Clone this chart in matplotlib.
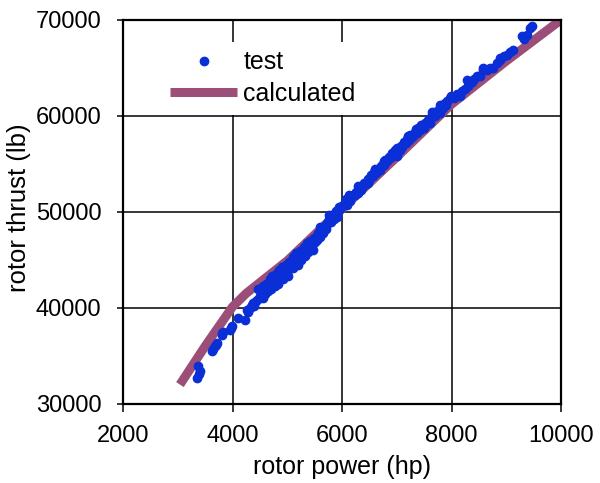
import numpy as np
import matplotlib.pyplot as plt

plt.rcParams['font.family'] = ['Liberation Sans', 'DejaVu Sans']

# calculated curve (hp, lb)
calc_power = [3040, 3500, 4000, 4250, 5000, 5700, 6000, 7000, 8000, 9000, 10000]
calc_thrust = [32000, 36000, 40100, 41500, 44900, 48700, 50300, 55700, 61200, 65700, 70000]

# test points (hp, lb)
test_power = [
    3346, 3375, 3406, 3390, 3620, 3650, 3680, 3711, 3700, 3802, 3832, 3815, 3954, 3985, 3970,
    4106, 4228, 4259, 4290, 4319, 4350, 4380, 4400, 4441, 4420,
    4502, 4530, 4560, 4600, 4624, 4650, 4684, 4700, 4740, 4776, 4806, 4830, 4860, 4898, 4920,
    4958, 4980, 5019, 5040, 5080, 5110, 5140, 5172, 5200, 5232, 5260, 5292, 5320, 5354, 5380,
    5410, 5445, 5475, 5475, 5500,
    4470, 4550, 4610, 4680, 4720, 4790, 4850, 4900, 4970, 5030, 5100, 5160, 5230, 5300, 5360,
    5420, 5480,
    5537, 5550, 5566, 5590, 5610, 5628, 5650, 5688, 5700, 5720, 5749, 5770, 5790, 5811, 5830,
    5850, 5871, 5890, 5910, 5931, 5950, 5970, 6000, 6023, 6050, 6070, 6085, 6100, 6145, 6160, 6200,
    5600, 5760, 5900, 6120, 6300, 6480, 6600, 6760, 6900, 7060, 7200, 7350, 7500, 7650, 7720, 7900,
    6230, 6260, 6290, 6320, 6350, 6388, 6410, 6440, 6470, 6500, 6530, 6560, 6590, 6620, 6650,
    6693, 6710, 6740, 6760, 6790, 6820, 6850, 6880, 6910, 6940, 6970, 6998, 7010, 7040,
    7070, 7100, 7130, 7160, 7190, 7220, 7250, 7280, 7301, 7330, 7363, 7390, 7420, 7450, 7480,
    7510, 7545, 7570, 7606, 7630, 7660, 7700, 7740, 7789, 7789, 7819, 7850, 7880, 7920, 7971, 7999,
    8050, 8100, 8154, 8200, 8240, 8276, 8300, 8336, 8380, 8420, 8459, 8519, 8580, 8580, 8641,
    8700, 8763, 8824, 8885, 8885, 8950, 9006, 9060, 9128, 9280, 9320, 9372, 9432, 9463,
]
test_thrust = [
    32700, 33900, 33400, 33150, 35450, 35700, 35970, 36320, 36100, 37190, 37530, 37350, 37710, 38060, 37900,
    38930, 38750, 39790, 39600, 39970, 40300, 40490, 40200, 40840, 40650,
    41180, 41500, 41000, 41400, 41880, 41700, 42400, 42000, 42600, 42220, 42920, 42500, 43100, 43440, 43000,
    43790, 43500, 43260, 44000, 44300, 44100, 44700, 44830, 44500, 45350, 45000, 45700, 45400, 46050, 45800,
    46400, 46220, 46050, 46740, 46900,
    42000, 42300, 42500, 43000, 43300, 43500, 43900, 44200, 44500, 44800, 45300, 45700, 45900, 46300, 46700,
    47000, 47300,
    47090, 47500, 47790, 47400, 48000, 48130, 47800, 48480, 48200, 48800, 48830, 49200, 48900, 49350, 49600,
    49300, 49870, 50100, 49900, 50210, 50500, 50300, 50600, 50740, 50900, 51300, 50740, 51200, 51080, 51500, 51800,
    48400, 49700, 49500, 51700, 52700, 53000, 54500, 55300, 55700, 56400, 57900, 58600, 58700, 60400, 60300, 61100,
    51700, 52100, 52000, 52400, 52300, 52640, 53000, 52900, 53400, 53300, 53800, 53700, 54100, 54000, 54500,
    54380, 54800, 55000, 54900, 55400, 55300, 55700, 55600, 56100, 56000, 56400, 55770, 56600, 56500,
    56900, 56800, 57300, 57200, 57600, 57500, 58000, 57800, 57850, 58300, 58200, 58700, 58500, 59000, 58900,
    59300, 59250, 59600, 59250, 59900, 60100, 60000, 60500, 60290, 61160, 61160, 60800, 61300, 61500, 61850, 62020,
    61900, 62300, 62020, 62600, 62800, 63760, 63100, 63420, 63500, 63800, 64110, 64110, 64800, 64980, 64800,
    65000, 64980, 65500, 65840, 66020, 66200, 66370, 66600, 66890, 68270, 68000, 68450, 69150, 69320,
]

fig = plt.figure(figsize=(6, 4.83), dpi=100)
ax = fig.add_axes([0.205, 0.164, 0.73, 0.795])

ax.plot(calc_power, calc_thrust, color='#9b4f78', lw=6.5, solid_capstyle='butt',
        label='calculated', zorder=2)
ax.plot(test_power, test_thrust, 'o', color='#0a2fd6', ms=6, mec='#0a2fd6',
        label='test', zorder=3)

ax.set_xlim(2000, 10000)
ax.set_ylim(30000, 70000)
ax.set_xticks([2000, 4000, 6000, 8000, 10000])
ax.set_yticks([30000, 40000, 50000, 60000, 70000])
ax.grid(True, color='black', lw=1.1)
ax.set_axisbelow(True)
for s in ax.spines.values():
    s.set_linewidth(1.6)
ax.tick_params(axis='x', direction='out', length=6, width=1.1, labelsize=17, pad=9.5)
ax.tick_params(axis='y', direction='out', length=4.5, width=1.1, labelsize=17, pad=11)

ax.set_xlabel('rotor power (hp)', fontsize=18)
ax.set_ylabel('rotor thrust (lb)', fontsize=18.5)
ax.xaxis.set_label_coords(0.5, -0.133)
ax.yaxis.set_label_coords(-0.21, 0.51)

h, l = ax.get_legend_handles_labels()
leg = ax.legend(h[::-1], l[::-1], loc='upper left', bbox_to_anchor=(0.087, 0.943),
                borderaxespad=0, borderpad=0.35, fontsize=18, numpoints=1,
                handlelength=2.7, handletextpad=0.24, labelspacing=0.3,
                frameon=True, fancybox=False)
leg.get_frame().set_facecolor('white')
leg.get_frame().set_edgecolor('none')
leg.get_frame().set_alpha(1)

fig.savefig('out.png', dpi=100)
